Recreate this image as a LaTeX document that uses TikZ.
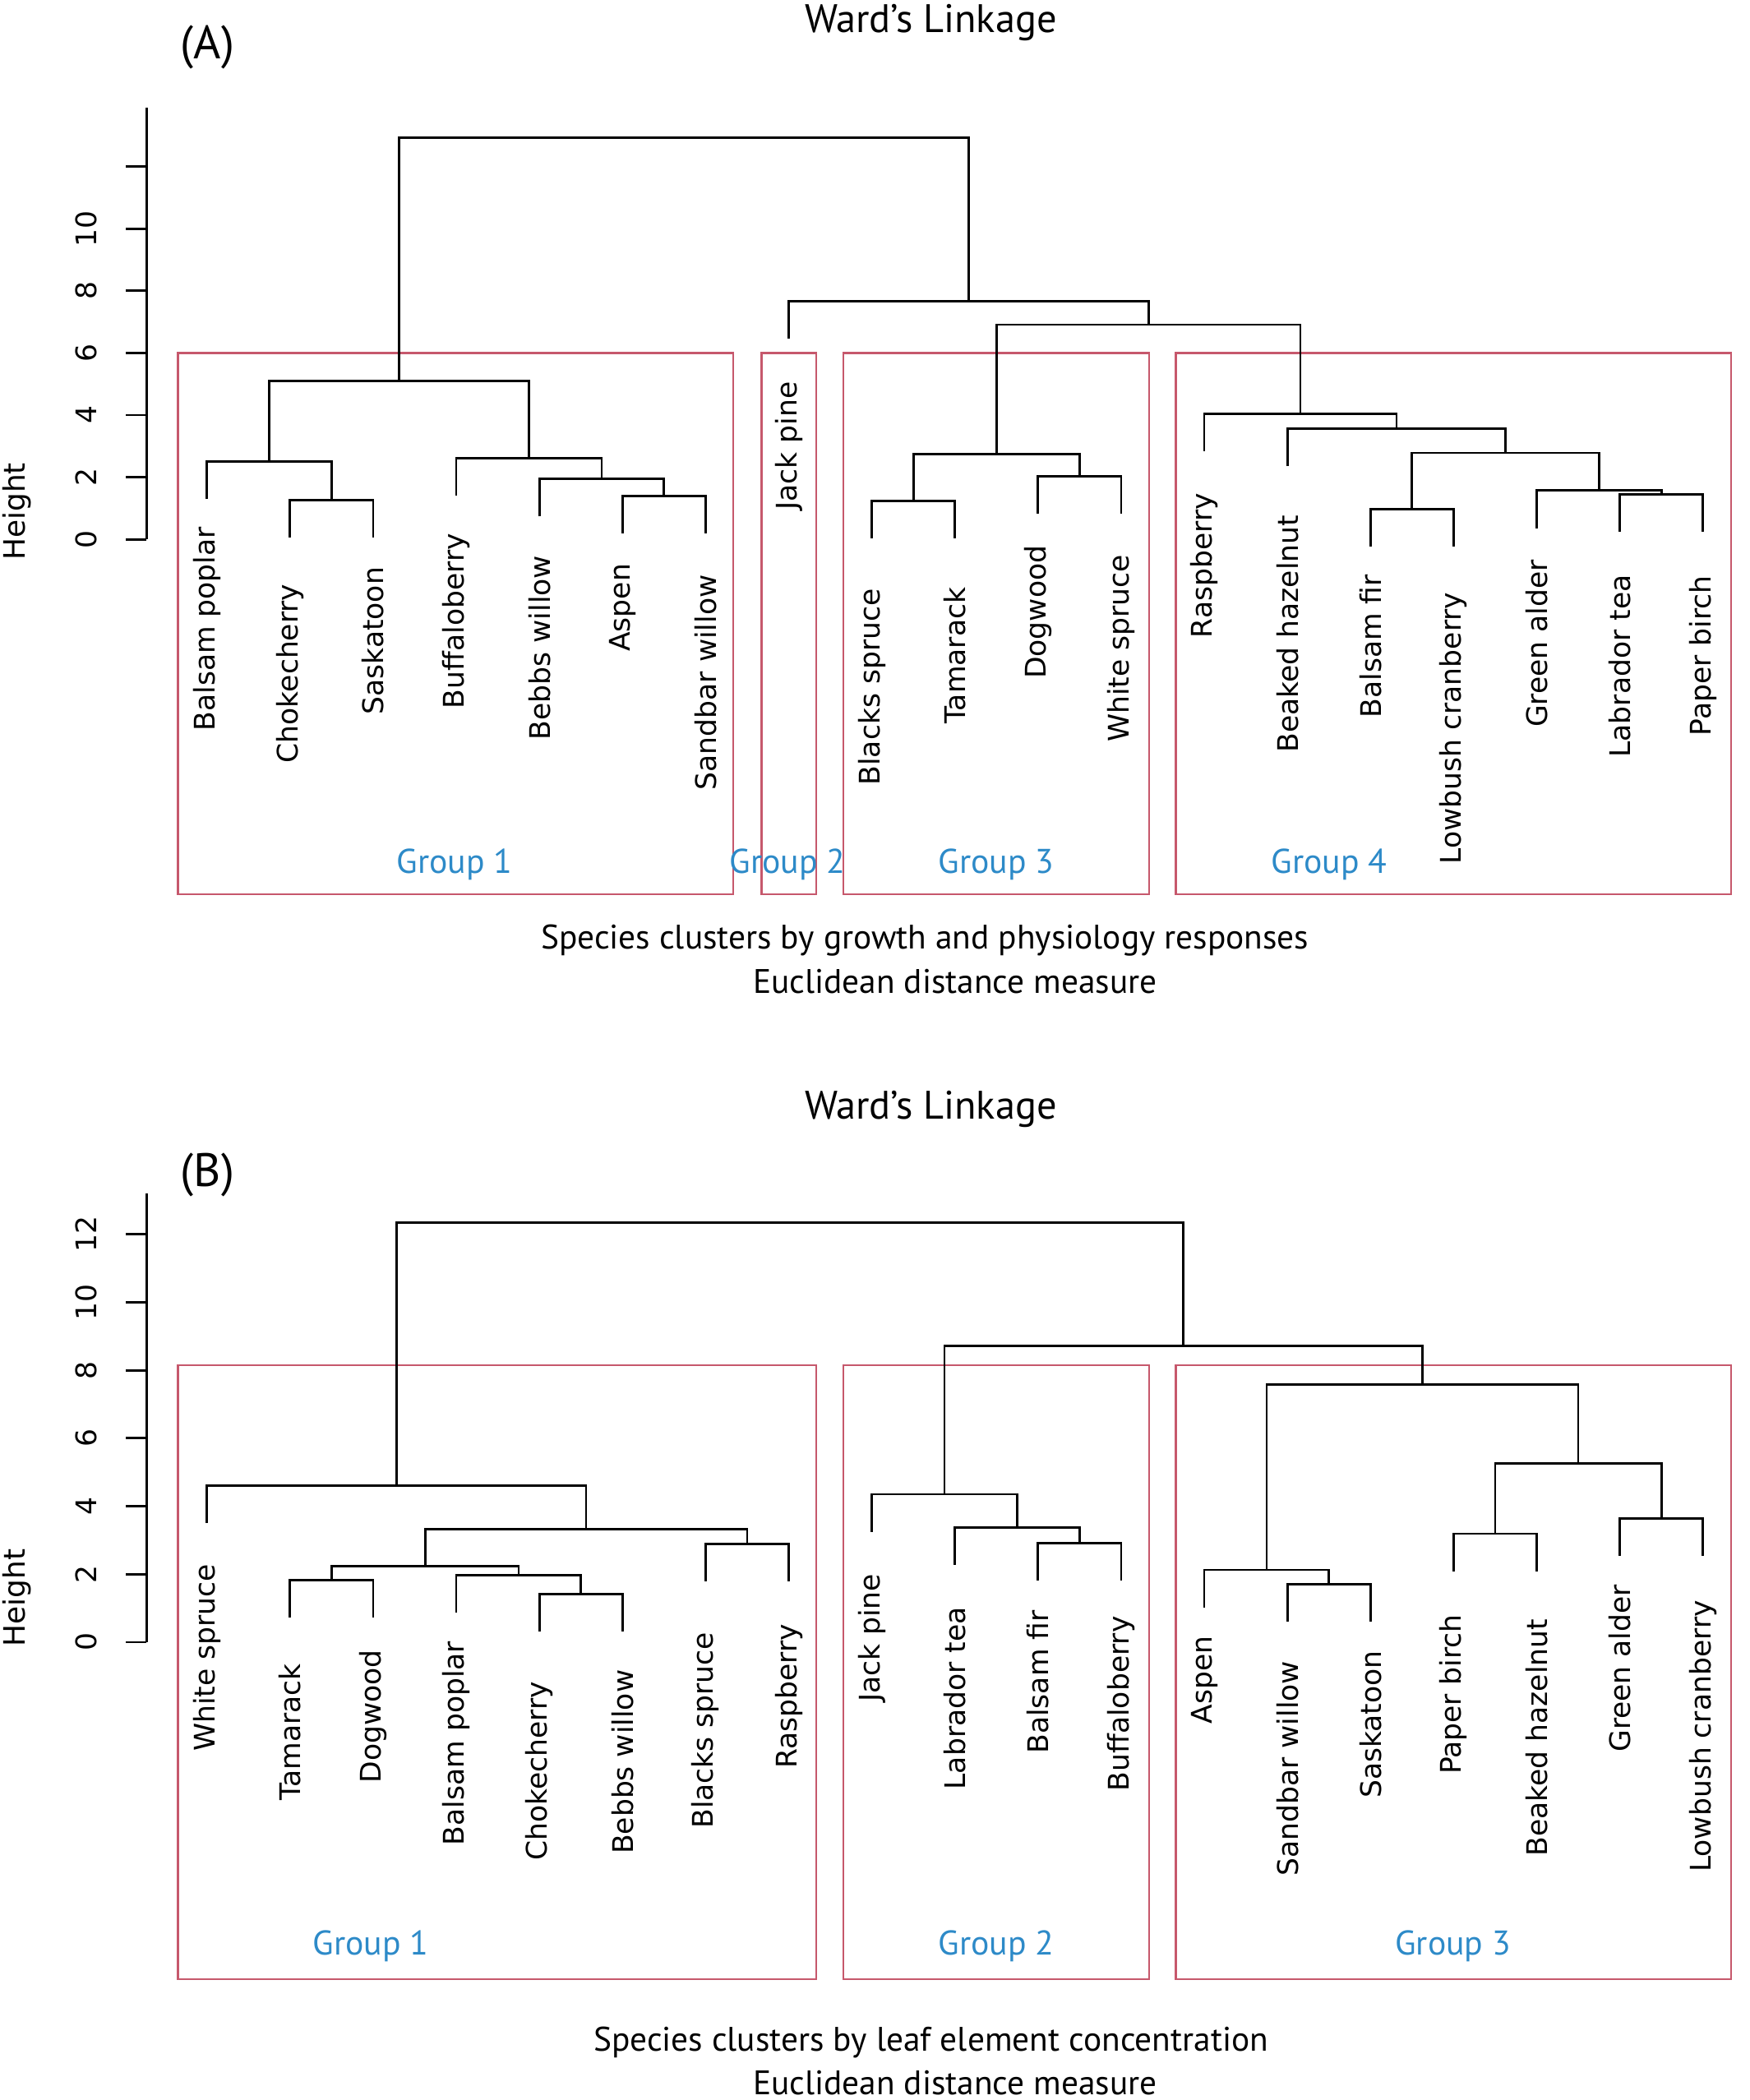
\documentclass[tikz,border=0pt]{standalone}
\usepackage{fontspec}
\setmainfont{DejaVu Sans}
\newfontfamily\ptsans{PT Sans}
\definecolor{boxred}{RGB}{198,88,108}
\definecolor{grpblue}{RGB}{45,138,200}
\begin{document}
\begin{tikzpicture}[x=1pt,y=-1pt,
  dend/.style={line width=1.7pt, line join=miter},
  axisline/.style={line width=1.7pt},
  grpbox/.style={draw=boxred, line width=1.4pt},
  lab/.style={rotate=90, anchor=east, inner sep=0pt, font=\fontsize{21.2}{25}\selectfont},
  ticklab/.style={rotate=90, inner sep=0pt, font=\fontsize{21.2}{25}\selectfont},
  htlab/.style={rotate=90, inner sep=0pt, font=\fontsize{22}{26}\selectfont},
  grplab/.style={text=grpblue, inner sep=0pt, font=\ptsans\fontsize{25.6}{30}\selectfont},
  ttl/.style={inner sep=0pt, font=\ptsans\fontsize{29.7}{34}\selectfont},
  tagtext/.style={inner sep=0pt, font=\ptsans\fontsize{35}{40}\selectfont},
  captext/.style={inner sep=0pt, font=\ptsans\fontsize{25.4}{30}\selectfont}]
\useasboundingbox (0,0) rectangle (1306,1568);

%% ================= PANEL A =================
\node[ttl] (titleA) at (695,17) {Ward’s Linkage};
\node[tagtext] (tagA) at (155,35) {(A)};
% boxes
\draw[grpbox] (132.9,263.6) rectangle (547.2,667.6);
\draw[grpbox] (568.5,263.6) rectangle (609.3,667.6);
\draw[grpbox] (629.7,263.6) rectangle (857.9,667.6);
\draw[grpbox] (877.9,263.6) rectangle (1292.3,667.6);
\node[grplab] (gA1) at (339.4,645.5) {Group 1};
\node[grplab] (gA2) at (588,645.5) {Group 2};
\node[grplab] (gA3) at (743.8,645.5) {Group 3};
\node[grplab] (gA4) at (992.4,645.5) {Group 4};
% axis
\coordinate (axAtop) at (109.5,80.3);
\coordinate (axAbot) at (109.5,402.7);
\draw[axisline] (axAtop) -- (axAbot);
\foreach \h in {0,2,...,12} {\draw[axisline] (94,{402.7-23.2*\h}) -- (109.5,{402.7-23.2*\h});}
\foreach \h in {0,2,...,10} {\node[ticklab] (tkA\h) at (64.5,{402.7-23.2*\h}) {\h};}
\node[htlab] (heightA) at (12.5,382) {Height};
% leaf tips
\coordinate (aBP) at (154.5,372.7);
\coordinate (aCh) at (216.55,401.2);
\coordinate (aSa) at (278.6,401.2);
\coordinate (aBu) at (340.65,369.9);
\coordinate (aBe) at (402.7,385.6);
\coordinate (aAs) at (464.75,398.3);
\coordinate (aSw) at (526.8,398.3);
\coordinate (aJP) at (588.85,252.7);
\coordinate (aBS) at (650.9,402);
\coordinate (aTa) at (712.95,402);
\coordinate (aDo) at (775,383.4);
\coordinate (aWS) at (837.05,383.4);
\coordinate (aRa) at (899.1,336.8);
\coordinate (aBH) at (961.15,348);
\coordinate (aBF) at (1023.2,408);
\coordinate (aLC) at (1085.25,408);
\coordinate (aGA) at (1147.3,394.3);
\coordinate (aLT) at (1209.35,397.1);
\coordinate (aPB) at (1271.4,397.1);
% merges
\coordinate (ma1) at (247.575,373.2);
\coordinate (ma2) at (201.04,344.7);
\coordinate (ma3) at (495.775,370.3);
\coordinate (ma4) at (449.24,357.6);
\coordinate (ma5) at (394.94,341.9);
\coordinate (ma6) at (297.99,284.4);
\coordinate (ma7) at (681.925,374);
\coordinate (ma8) at (806.025,355.4);
\coordinate (ma9) at (743.975,338.9);
\coordinate (ma10) at (1240.375,369.1);
\coordinate (ma11) at (1193.84,366.3);
\coordinate (ma12) at (1054.225,380);
\coordinate (ma13) at (1124.03,338.1);
\coordinate (ma14) at (1042.59,320);
\coordinate (ma15) at (970.85,308.8);
\coordinate (ma16) at (857.41,242.4);
\coordinate (ma17) at (723.13,224.7);
\coordinate (ma18) at (510.56,102.7);
\draw[dend] (aCh) |- (ma1) -| (aSa);
\draw[dend] (aBP) |- (ma2) -| (ma1);
\draw[dend] (aAs) |- (ma3) -| (aSw);
\draw[dend] (aBe) |- (ma4) -| (ma3);
\draw[dend] (aBu) |- (ma5) -| (ma4);
\draw[dend] (ma2) |- (ma6) -| (ma5);
\draw[dend] (aBS) |- (ma7) -| (aTa);
\draw[dend] (aDo) |- (ma8) -| (aWS);
\draw[dend] (ma7) |- (ma9) -| (ma8);
\draw[dend] (aLT) |- (ma10) -| (aPB);
\draw[dend] (aGA) |- (ma11) -| (ma10);
\draw[dend] (aBF) |- (ma12) -| (aLC);
\draw[dend] (ma12) |- (ma13) -| (ma11);
\draw[dend] (aBH) |- (ma14) -| (ma13);
\draw[dend] (aRa) |- (ma15) -| (ma14);
\draw[dend] (ma9) |- (ma16) -| (ma15);
\draw[dend] (aJP) |- (ma17) -| (ma16);
\draw[dend] (ma6) |- (ma18) -| (ma17);
% labels
\node[lab] (laBP) at (154.5,393.3) {Balsam poplar};
\node[lab] (laCh) at (216.55,435.9) {Chokecherry};
\node[lab] (laSa) at (278.6,423.3) {Saskatoon};
\node[lab] (laBu) at (340.65,398.3) {Buffaloberry};
\node[lab] (laBe) at (402.7,414.6) {Bebbs willow};
\node[lab] (laAs) at (464.75,420.8) {Aspen};
\node[lab] (laSw) at (526.8,429.1) {Sandbar willow};
\node[lab] (laJP) at (588.85,285) {Jack pine};
\node[lab] (laBS) at (650.9,439.6) {Blacks spruce};
\node[lab] (laTa) at (712.95,438.4) {Tamarack};
\node[lab] (laDo) at (775,407.1) {Dogwood};
\node[lab] (laWS) at (837.05,414.1) {White spruce};
\node[lab] (laRa) at (899.1,368.2) {Raspberry};
\node[lab] (laBH) at (961.15,384.5) {Beaked hazelnut};
\node[lab] (laBF) at (1023.2,428.9) {Balsam fir};
\node[lab] (laLC) at (1085.25,442.1) {Lowbush cranberry};
\node[lab] (laGA) at (1147.3,417.8) {Green alder};
\node[lab] (laLT) at (1209.35,429.1) {Labrador tea};
\node[lab] (laPB) at (1271.4,429.6) {Paper birch};
\node[captext] (capA1) at (690.5,702) {Species clusters by growth and physiology responses};
\node[captext] (capA2) at (713,733) {Euclidean distance measure};

%% ================= PANEL B =================
\node[ttl] (titleB) at (695,828) {Ward’s Linkage};
\node[tagtext] (tagB) at (155,877) {(B)};
\draw[grpbox] (132.9,1019.5) rectangle (609.3,1477.6);
\draw[grpbox] (629.7,1019.5) rectangle (857.9,1477.6);
\draw[grpbox] (877.9,1019.5) rectangle (1292.3,1477.6);
\node[grplab] (gB1) at (276.9,1453.4) {Group 1};
\node[grplab] (gB2) at (743.8,1453.4) {Group 2};
\node[grplab] (gB3) at (1084.9,1453.4) {Group 3};
\coordinate (axBtop) at (109.5,891);
\coordinate (axBbot) at (109.5,1226.1);
\draw[axisline] (axBtop) -- (axBbot);
\foreach \h in {0,2,...,12} {\draw[axisline] (94,{1226.1-25.37*\h}) -- (109.5,{1226.1-25.37*\h});}
\foreach \h in {0,2,...,12} {\node[ticklab] (tkB\h) at (64.5,{1226.1-25.37*\h}) {\h};}
\node[htlab] (heightB) at (12.5,1193) {Height};
% leaf tips
\coordinate (bWS) at (154.5,1137.3);
\coordinate (bTa) at (216.55,1207.8);
\coordinate (bDo) at (278.6,1207.8);
\coordinate (bBP) at (340.65,1204);
\coordinate (bCh) at (402.7,1218.4);
\coordinate (bBe) at (464.75,1218.4);
\coordinate (bBS) at (526.8,1180.6);
\coordinate (bRa) at (588.85,1180.6);
\coordinate (bJP) at (650.9,1143.7);
\coordinate (bLT) at (712.95,1168.4);
\coordinate (bBF) at (775,1180.3);
\coordinate (bBu) at (837.05,1180.3);
\coordinate (bAs) at (899.1,1200.2);
\coordinate (bSw) at (961.15,1210.8);
\coordinate (bSa) at (1023.2,1210.8);
\coordinate (bPB) at (1085.25,1173.2);
\coordinate (bBH) at (1147.3,1173.2);
\coordinate (bGA) at (1209.35,1161.7);
\coordinate (bLC) at (1271.4,1161.7);
% merges
\coordinate (mb1) at (247.575,1179.8);
\coordinate (mb2) at (433.725,1190.4);
\coordinate (mb3) at (387.19,1176);
\coordinate (mb4) at (317.38,1169.6);
\coordinate (mb5) at (557.825,1152.6);
\coordinate (mb6) at (437.6,1141.9);
\coordinate (mb7) at (296.05,1109.3);
\coordinate (mb8) at (806.025,1152.3);
\coordinate (mb9) at (759.49,1140.4);
\coordinate (mb10) at (705.2,1115.7);
\coordinate (mb11) at (992.175,1182.8);
\coordinate (mb12) at (945.64,1172.2);
\coordinate (mb13) at (1116.275,1145.2);
\coordinate (mb14) at (1240.375,1133.7);
\coordinate (mb15) at (1178.325,1092.5);
\coordinate (mb16) at (1061.98,1033.8);
\coordinate (mb17) at (883.59,1005);
\coordinate (mb18) at (589.82,912.9);
\draw[dend] (bTa) |- (mb1) -| (bDo);
\draw[dend] (bCh) |- (mb2) -| (bBe);
\draw[dend] (bBP) |- (mb3) -| (mb2);
\draw[dend] (mb1) |- (mb4) -| (mb3);
\draw[dend] (bBS) |- (mb5) -| (bRa);
\draw[dend] (mb4) |- (mb6) -| (mb5);
\draw[dend] (bWS) |- (mb7) -| (mb6);
\draw[dend] (bBF) |- (mb8) -| (bBu);
\draw[dend] (bLT) |- (mb9) -| (mb8);
\draw[dend] (bJP) |- (mb10) -| (mb9);
\draw[dend] (bSw) |- (mb11) -| (bSa);
\draw[dend] (bAs) |- (mb12) -| (mb11);
\draw[dend] (bPB) |- (mb13) -| (bBH);
\draw[dend] (bGA) |- (mb14) -| (bLC);
\draw[dend] (mb13) |- (mb15) -| (mb14);
\draw[dend] (mb12) |- (mb16) -| (mb15);
\draw[dend] (mb10) |- (mb17) -| (mb16);
\draw[dend] (mb7) |- (mb18) -| (mb17);
% labels
\node[lab] (lbWS) at (154.5,1167.7) {White spruce};
\node[lab] (lbTa) at (216.55,1242.1) {Tamarack};
\node[lab] (lbDo) at (278.6,1231.7) {Dogwood};
\node[lab] (lbBP) at (340.65,1225.3) {Balsam poplar};
\node[lab] (lbCh) at (402.7,1255.4) {Chokecherry};
\node[lab] (lbBe) at (464.75,1246.6) {Bebbs willow};
\node[lab] (lbBS) at (526.8,1218.5) {Blacks spruce};
\node[lab] (lbRa) at (588.85,1212.5) {Raspberry};
\node[lab] (lbJP) at (650.9,1175) {Jack pine};
\node[lab] (lbLT) at (712.95,1199.8) {Labrador tea};
\node[lab] (lbBF) at (775,1202.2) {Balsam fir};
\node[lab] (lbBu) at (837.05,1206.6) {Buffaloberry};
\node[lab] (lbAs) at (899.1,1221.4) {Aspen};
\node[lab] (lbSw) at (961.15,1240) {Sandbar willow};
\node[lab] (lbSa) at (1023.2,1232.4) {Saskatoon};
\node[lab] (lbPB) at (1085.25,1205.2) {Paper birch};
\node[lab] (lbBH) at (1147.3,1208.7) {Beaked hazelnut};
\node[lab] (lbGA) at (1209.35,1183) {Green alder};
\node[lab] (lbLC) at (1271.4,1194.9) {Lowbush cranberry};
\node[captext] (capB1) at (695,1525) {Species clusters by leaf element concentration};
\node[captext] (capB2) at (713,1555) {Euclidean distance measure};
\end{tikzpicture}
\end{document}
